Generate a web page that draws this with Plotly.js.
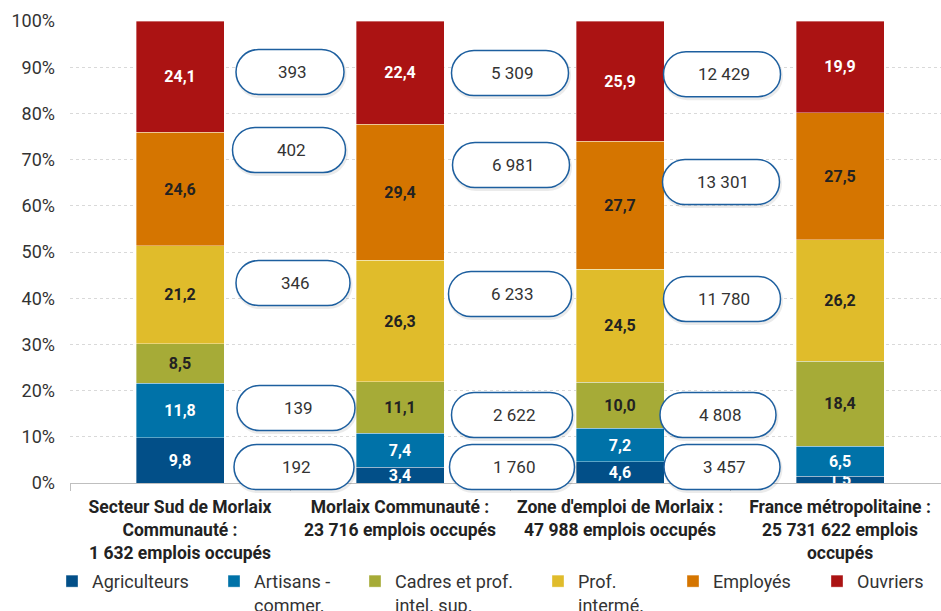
<!DOCTYPE html>
<html>
<head>
<meta charset="utf-8">
<script src="https://cdn.plot.ly/plotly-3.0.1.min.js"></script>
<style>html,body{margin:0;padding:0;background:#fff;}#chart{width:941px;height:611px;}</style>
</head>
<body>
<div id="chart"></div>
<script>
// ---- data ----
var categories = [
  "<b>Secteur Sud de Morlaix<br>Communauté :<br>1 632 emplois occupés</b>",
  "<b>Morlaix Communauté :<br>23 716 emplois occupés</b>",
  "<b>Zone d'emploi de Morlaix :<br>47 988 emplois occupés</b>",
  "<b>France métropolitaine :<br>25 731 622 emplois<br>occupés</b>"
];
var seriesNames = ["Agriculteurs", "Artisans -<br>commer.", "Cadres et prof.<br>intel. sup.", "Prof.<br>intermé.", "Employés", "Ouvriers"];
var agriculteurs = [9.8, 3.4, 4.6, 1.5];
var artisans     = [11.8, 7.4, 7.2, 6.5];
var cadres       = [8.5, 11.1, 10.0, 18.4];
var profInterm   = [21.2, 26.3, 24.5, 26.2];
var employes     = [24.6, 29.4, 27.7, 27.5];
var ouvriers     = [24.1, 22.4, 25.9, 19.9];
// counts shown in the rounded boxes (between bars)
var countsGap1 = [393, 402, 346, 139, 192];
var countsGap2 = [5309, 6981, 6233, 2622, 1760];
var countsGap3 = [12429, 13301, 11780, 4808, 3457];

// ---- styles / layout helpers ----
var colors = ["#024f88", "#0072a8", "#a6ab37", "#e0bc2b", "#d57500", "#ab1313"];
var textColors = ["#ffffff", "#ffffff", "#222222", "#222222", "#222222", "#ffffff"];
var allSeries = [agriculteurs, artisans, cadres, profInterm, employes, ouvriers];

var L = 70, T = 21, W = 871, H = 462;
// box centres in pixels (x) and percent (y), widths in px
var boxX = [[290, 289, 293, 296, 294], [510, 511, 510, 512, 512], [722, 721, 722, 718, 722]];
var boxY = [[88.96, 72.08, 43.29, 16.23, 3.46], [88.74, 68.83, 40.91, 14.72, 3.46], [88.5, 65.15, 39.83, 14.72, 3.46]];
var boxW = [[108, 113, 114, 118, 120], [117, 117, 123, 121, 125], [117, 117, 117, 116, 116]];
var boxH = 45;
// legend square left edges (px)
var legendSquareX = [72, 234, 375, 558, 693, 837];

function fmt(n) { return String(n).replace(/\B(?=(\d{3})+(?!\d))/g, " "); }

function pillPath(w, h) {
  var r = h / 2, a = w / 2 - r, k = 0.5523 * r;
  return "M" + (-a) + "," + (-r) +
    " L" + a + "," + (-r) +
    " C" + (a + k) + "," + (-r) + " " + (a + r) + "," + (-k) + " " + (a + r) + ",0" +
    " C" + (a + r) + "," + k + " " + (a + k) + "," + r + " " + a + "," + r +
    " L" + (-a) + "," + r +
    " C" + (-a - k) + "," + r + " " + (-a - r) + "," + k + " " + (-a - r) + ",0" +
    " C" + (-a - r) + "," + (-k) + " " + (-a - k) + "," + (-r) + " " + (-a) + "," + (-r) + " Z";
}

var traces = allSeries.map(function (vals, i) {
  return {
    type: "bar",
    name: seriesNames[i],
    legend: i === 0 ? "legend" : "legend" + (i + 1),
    x: categories,
    y: vals,
    marker: { color: colors[i], line: { color: "rgba(255,255,255,0.45)", width: 0.8 } },
    width: 0.4,
    texttemplate: "%{y:.1f}",
    textposition: "inside",
    insidetextanchor: "middle",
    constraintext: "none",
    textangle: 0,
    insidetextfont: { family: "Roboto", size: 16, color: textColors[i], weight: "bold" },
    hoverinfo: "skip"
  };
});

var shapes = [], annotations = [];
var allCounts = [countsGap1, countsGap2, countsGap3];
allCounts.forEach(function (counts, g) {
  counts.forEach(function (c, j) {
    var xp = (boxX[g][j] - L) / W;
    var yp = boxY[g][j] / 100;
    shapes.push({
      type: "path", xref: "paper", yref: "paper",
      xsizemode: "pixel", ysizemode: "pixel",
      xanchor: xp + 1 / W, yanchor: yp - 2 / H,
      path: pillPath(boxW[g][j], boxH),
      line: { color: "rgba(0,0,0,0.08)", width: 3 }, fillcolor: "rgba(0,0,0,0)", layer: "above"
    });
    shapes.push({
      type: "path", xref: "paper", yref: "paper",
      xsizemode: "pixel", ysizemode: "pixel",
      xanchor: xp, yanchor: yp,
      path: pillPath(boxW[g][j], boxH),
      line: { color: "#1d5f9f", width: 1.5 }, fillcolor: "#ffffff", layer: "above"
    });
    annotations.push({
      xref: "paper", yref: "paper", x: xp + 2 / W, y: yp,
      xanchor: "center", yanchor: "middle",
      text: fmt(c), showarrow: false,
      font: { family: "Roboto", size: 17, color: "#333333" }
    });
  });
});

var layout = {
  width: 941, height: 611,
  margin: { l: L, r: 0, t: T, b: 128, pad: 0, autoexpand: false },
  paper_bgcolor: "#ffffff", plot_bgcolor: "#ffffff",
  separators: ", ",
  barmode: "stack",
  font: { family: "Roboto", color: "#333333", size: 16 },
  xaxis: {
    type: "category",
    range: [-0.5, 3.459],
    showgrid: false,
    showline: true, linecolor: "#bfbfbf", linewidth: 1,
    ticks: "outside", tickson: "boundaries", ticklen: 7, tickcolor: "#bfbfbf",
    ticklabelstandoff: 8,
    tickfont: { family: "Roboto", size: 17.5, color: "#222222" },
    fixedrange: true
  },
  yaxis: {
    range: [0, 100], dtick: 10, ticksuffix: "%",
    showgrid: true, gridcolor: "#d9d9d9", griddash: "3px,3px", gridwidth: 1,
    zeroline: false, showline: false,
    ticklabelstandoff: 14,
    tickfont: { family: "Roboto", size: 18, color: "#333333" },
    fixedrange: true
  },
  shapes: shapes,
  annotations: annotations,
  uniformtext: { mode: "show", minsize: 16 },
  showlegend: true
};

legendSquareX.forEach(function (sx, i) {
  var key = i === 0 ? "legend" : "legend" + (i + 1);
  layout[key] = {
    orientation: "h",
    x: (sx - 5 - 15 - L) / W, xanchor: "left",
    y: -0.173, yanchor: "top",
    font: { family: "Roboto", size: 18, color: "#333333" },
    valign: "top", itemwidth: 30, bgcolor: "rgba(0,0,0,0)"
  };
});

Plotly.newPlot("chart", traces, layout, { displayModeBar: false, staticPlot: true });
</script>
</body>
</html>
